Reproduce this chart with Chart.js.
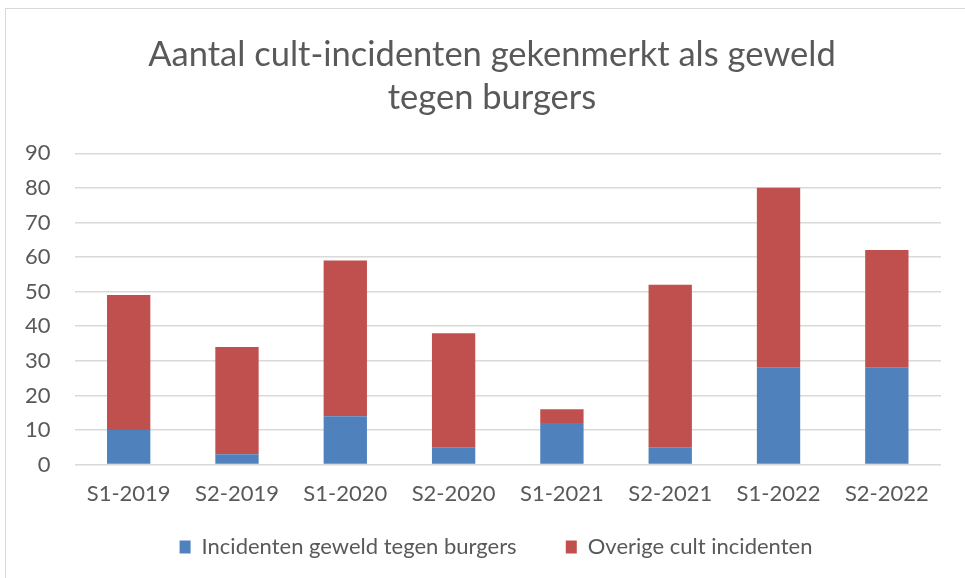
<!DOCTYPE html>
<html>
<head>
<meta charset="utf-8">
<script src="https://cdn.jsdelivr.net/npm/chart.js@4"></script>
<style>
  html, body { margin: 0; padding: 0; background: #fff; }
  #wrap { width: 965px; height: 578px; }
</style>
</head>
<body>
<div id="wrap"><canvas id="chart"></canvas></div>
<script>
const periods = ["S1-2019", "S2-2019", "S1-2020", "S2-2020", "S1-2021", "S2-2021", "S1-2022", "S2-2022"];
const geweldTegenBurgers = [10, 3, 14, 5, 12, 5, 28, 28];
const overigeIncidenten = [39, 31, 45, 33, 4, 47, 52, 34];
const seriesNames = ["Incidenten geweld tegen burgers", "Overige cult incidenten"];
const titleLines = ["Aantal cult-incidenten gekenmerkt als geweld", "tegen burgers"];

const textColor = "#595959";
const fontFamily = "Lato, 'Open Sans', sans-serif";

// kader van de grafiek (links en boven zichtbaar)
const frame = {
  id: "frame",
  beforeDraw(chart) {
    const ctx = chart.ctx;
    ctx.save();
    ctx.strokeStyle = "#d9d9d9";
    ctx.lineWidth = 1;
    ctx.strokeRect(5.5, 8.5, 1200, 1200);
    ctx.restore();
  },
};

// titel en legenda iets naar rechts, zoals in het origineel
const centerShift = {
  id: "centerShift",
  afterLayout(chart) {
    chart.titleBlock.left += 21;
    chart.titleBlock.right += 21;
    chart.legend.left += 25;
    chart.legend.right += 25;
  },
};

new Chart(document.getElementById("chart"), {
  type: "bar",
  data: {
    labels: periods,
    datasets: [
      {
        label: seriesNames[0],
        data: geweldTegenBurgers,
        backgroundColor: "#4F81BD",
      },
      {
        label: seriesNames[1],
        data: overigeIncidenten,
        backgroundColor: "#C0504D",
      },
    ],
  },
  plugins: [frame, centerShift],
  options: {
    responsive: true,
    maintainAspectRatio: false,
    animation: false,
    barPercentage: 0.8,
    categoryPercentage: 0.5,
    layout: {
      padding: { left: 1, right: 24, top: 14, bottom: 10 },
    },
    plugins: {
      title: {
        display: true,
        text: titleLines,
        color: textColor,
        font: { family: fontFamily, size: 34.5, weight: "normal", lineHeight: 1.25 },
        padding: { top: 19, bottom: 34 },
      },
      legend: {
        display: true,
        position: "bottom",
        labels: {
          color: textColor,
          font: { family: fontFamily, size: 22 },
          boxWidth: 11,
          boxHeight: 13,
          padding: 21,
          generateLabels(chart) {
            const items = Chart.defaults.plugins.legend.labels.generateLabels(chart);
            // extra ruimte tussen de twee legenda-items
            items[0].text += "     ";
            return items;
          },
        },
      },
      tooltip: { enabled: false },
    },
    scales: {
      x: {
        stacked: true,
        grid: { display: false },
        border: { display: false },
        ticks: {
          color: textColor,
          font: { family: fontFamily, size: 22 },
          padding: 8,
        },
      },
      y: {
        stacked: true,
        min: 0,
        max: 90,
        grid: { color: "#d9d9d9", lineWidth: 1.5, drawTicks: false },
        border: { display: false },
        ticks: {
          stepSize: 10,
          color: textColor,
          font: { family: fontFamily, size: 22 },
          padding: 24,
        },
      },
    },
  },
});
</script>
</body>
</html>
